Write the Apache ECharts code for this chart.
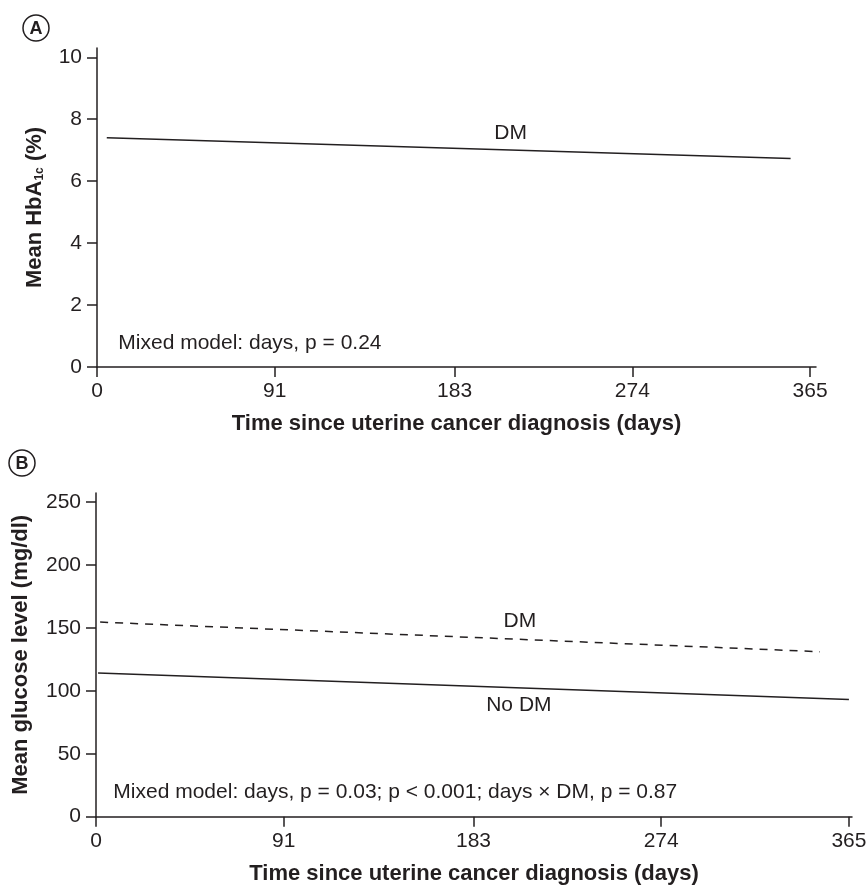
<!DOCTYPE html>
<html>
<head>
<meta charset="utf-8">
<title>HbA1c and glucose since uterine cancer diagnosis</title>
<script src="https://cdn.jsdelivr.net/npm/echarts@6/dist/echarts.min.js"></script>
<style>
    html, body { margin: 0; padding: 0; background: #fff; }
    #chart { width: 868px; height: 886px; }
</style>
</head>
<body>
<div id="chart"></div>
<script>
    // ticks
    var dayTicks = [0, 91, 183, 274, 365];
    var hbaTicks = [0, 2, 4, 6, 8, 10];
    var glucoseTicks = [0, 50, 100, 150, 200, 250];

    // panel A: HbA1c, DM only
    var hbaDays = [5, 355];
    var hbaDM = [7.4, 6.73];

    // panel B: glucose
    var dmDays = [2, 351];
    var glucoseDM = [154.5, 131];
    var noDmDays = [1, 365];
    var glucoseNoDM = [114, 93];

    var ink = '#231f20';
    var font = '"Liberation Sans", Arial, Helvetica, sans-serif';

    function pairs(xs, ys) {
        var out = [];
        for (var i = 0; i < xs.length; i++) {
            out.push([xs[i], ys[i]]);
        }
        return out;
    }

    function xAxisFor(idx, max) {
        return {
            gridIndex: idx,
            type: 'value',
            min: 0,
            max: max,
            name: 'Time since uterine cancer diagnosis (days)',
            nameLocation: 'middle',
            nameGap: 46,
            nameTextStyle: { color: ink, fontSize: 22, fontWeight: 'bold', fontFamily: font },
            axisLine: { show: true, lineStyle: { color: ink, width: 1.5 } },
            axisTick: { show: true, length: 10, customValues: dayTicks, lineStyle: { color: ink, width: 1.5 } },
            axisLabel: { show: true, customValues: dayTicks, margin: 14, color: ink, fontSize: 21, fontFamily: font },
            splitLine: { show: false }
        };
    }

    function yAxisFor(idx, max, ticks, name, gap, rich) {
        return {
            gridIndex: idx,
            type: 'value',
            min: 0,
            max: max,
            name: name,
            nameLocation: 'middle',
            nameRotate: 90,
            nameGap: gap,
            nameTextStyle: { color: ink, fontSize: 22, fontWeight: 'bold', fontFamily: font, rich: rich },
            axisLine: { show: true, lineStyle: { color: ink, width: 1.5 } },
            axisTick: { show: true, length: 10, customValues: ticks, lineStyle: { color: ink, width: 1.5 } },
            axisLabel: { show: true, customValues: ticks, margin: 15, color: ink, fontSize: 21, fontFamily: font },
            splitLine: { show: false }
        };
    }

    function textAt(idx, x, y, txt, align) {
        return {
            type: 'scatter',
            xAxisIndex: idx,
            yAxisIndex: idx,
            symbolSize: 0,
            silent: true,
            itemStyle: { opacity: 1 },
            data: [[x, y]],
            label: {
                show: true,
                position: 'inside',
                align: align,
                verticalAlign: 'middle',
                formatter: txt,
                color: ink,
                opacity: 1,
                fontSize: 21,
                fontFamily: font
            }
        };
    }

    var option = {
        animation: false,
        backgroundColor: '#fff',
        grid: [
            { left: 97, top: 48, width: 719, height: 319, containLabel: false, outerBoundsMode: 'none' },
            { left: 96, top: 493, width: 756, height: 323.7, containLabel: false, outerBoundsMode: 'none' }
        ],
        xAxis: [xAxisFor(0, 368), xAxisFor(1, 366.5)],
        yAxis: [
            yAxisFor(0, 10.3, hbaTicks, 'Mean HbA{sub|1c} (%)', 51, {
                sub: { fontSize: 12, fontWeight: 'bold', fontFamily: font, color: ink, verticalAlign: 'bottom', padding: [9, 0, 0, 0] }
            }),
            yAxisFor(1, 257, glucoseTicks, 'Mean glucose level (mg/dl)', 64, {})
        ],
        series: [
            {
                name: 'HbA1c DM',
                type: 'line',
                xAxisIndex: 0,
                yAxisIndex: 0,
                symbol: 'none',
                data: pairs(hbaDays, hbaDM),
                lineStyle: { color: ink, width: 1.5 }
            },
            {
                name: 'Glucose DM',
                type: 'line',
                xAxisIndex: 1,
                yAxisIndex: 1,
                symbol: 'none',
                data: pairs(dmDays, glucoseDM),
                lineStyle: { color: ink, width: 1.5, type: [8, 7] }
            },
            {
                name: 'Glucose no DM',
                type: 'line',
                xAxisIndex: 1,
                yAxisIndex: 1,
                symbol: 'none',
                data: pairs(noDmDays, glucoseNoDM),
                lineStyle: { color: ink, width: 1.5 }
            },
            textAt(0, 211.7, 7.54, 'DM', 'center'),
            textAt(0, 10.9, 0.76, 'Mixed model: days, p = 0.24', 'left'),
            textAt(1, 205.5, 155.5, 'DM', 'center'),
            textAt(1, 205, 88.7, 'No DM', 'center'),
            textAt(1, 8.4, 19.8, 'Mixed model: days, p = 0.03; p < 0.001; days \u00d7 DM, p = 0.87', 'left')
        ],
        // circled panel letters
        graphic: [
            { type: 'circle', shape: { cx: 36, cy: 28, r: 13 }, style: { fill: '#fff', stroke: ink, lineWidth: 1.5 } },
            { type: 'text', x: 36, y: 29, style: { text: 'A', fill: ink, font: 'bold 18px ' + font, align: 'center', verticalAlign: 'middle' } },
            { type: 'circle', shape: { cx: 22, cy: 463, r: 13 }, style: { fill: '#fff', stroke: ink, lineWidth: 1.5 } },
            { type: 'text', x: 22, y: 464, style: { text: 'B', fill: ink, font: 'bold 18px ' + font, align: 'center', verticalAlign: 'middle' } }
        ]
    };

    var myChart = echarts.init(document.getElementById('chart'), null, { renderer: 'canvas' });
    myChart.setOption(option);
</script>
</body>
</html>
